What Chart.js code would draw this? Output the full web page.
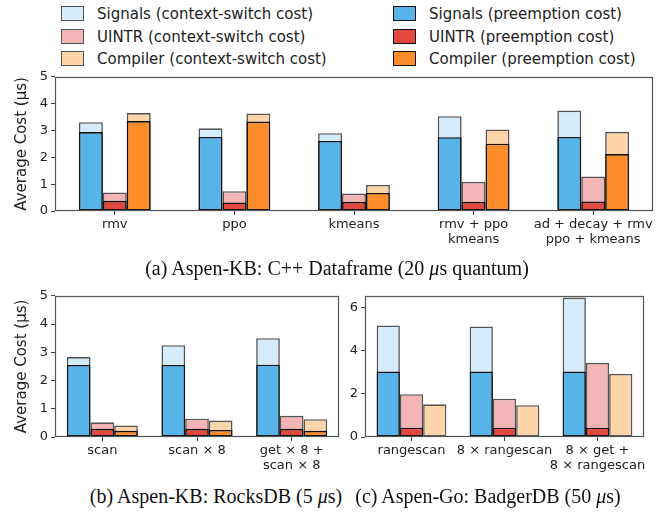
<!DOCTYPE html>
<html>
<head>
<meta charset="utf-8">
<script src="https://cdn.jsdelivr.net/npm/chart.js@4.4.0/dist/chart.umd.min.js"></script>
<style>
  body { margin: 0; background: #fff; width: 664px; height: 514px; position: relative; overflow: hidden; font-family: "DejaVu Sans"; }
  canvas { position: absolute; }
  .cap { position: absolute; font-family: "Liberation Serif"; font-size: 20px; color: #111; white-space: nowrap; transform: translateX(-50%); line-height: 22px; }
  .item { position: absolute; font-size: 15px; color: #222; white-space: nowrap; line-height: 18px; }
  .sw { display: inline-block; width: 23px; height: 15px; border: 1.5px solid #222; box-sizing: border-box; vertical-align: -2px; margin-right: 13px; }
</style>
</head>
<body>
<div id="legend"></div>
<canvas id="chartA" width="664" height="192" style="left:0;top:66px"></canvas>
<div class="cap" style="left:337px;top:257px">(a) Aspen-KB: C++ Dataframe (20 <i>μ</i>s quantum)</div>
<canvas id="chartB" width="342" height="195" style="left:0;top:285px"></canvas>
<canvas id="chartC" width="324" height="195" style="left:340px;top:285px"></canvas>
<div class="cap" style="left:216px;top:485px">(b) Aspen-KB: RocksDB (5 <i>μ</i>s)</div>
<div class="cap" style="left:488px;top:485px">(c) Aspen-Go: BadgerDB (50 <i>μ</i>s)</div>
<script>
// legend / series names
const seriesNames = ['Signals', 'UINTR', 'Compiler'];
const preColors = ['#56b4e9', '#e2483d', '#fd8c2b'];
const csColors = ['#d4ecfb', '#f4b5b7', '#fed5a9'];

// (a) C++ Dataframe
const labelsA = ['rmv', 'ppo', 'kmeans', ['rmv + ppo', 'kmeans'], ['ad + decay + rmv', 'ppo + kmeans']];
const sigCsA = [3.31, 3.08, 2.90, 3.53, 3.74];
const sigPreA = [2.94, 2.76, 2.61, 2.75, 2.76];
const uintrCsA = [0.69, 0.74, 0.65, 1.08, 1.29];
const uintrPreA = [0.38, 0.32, 0.34, 0.34, 0.35];
const compCsA = [3.65, 3.63, 0.97, 3.04, 2.95];
const compPreA = [3.35, 3.33, 0.67, 2.51, 2.12];

// (b) RocksDB
const labelsB = ['scan', 'scan × 8', ['get × 8 +', 'scan × 8']];
const sigCsB = [2.83, 3.25, 3.50];
const sigPreB = [2.55, 2.55, 2.56];
const uintrCsB = [0.52, 0.65, 0.75];
const uintrPreB = [0.29, 0.29, 0.29];
const compCsB = [0.41, 0.58, 0.63];
const compPreB = [0.22, 0.25, 0.22];

// (c) BadgerDB
const labelsC = ['rangescan', '8 × rangescan', ['8 × get +', '8 × rangescan']];
const sigCsC = [5.16, 5.11, 6.45];
const sigPreC = [3.03, 3.03, 3.03];
const uintrCsC = [1.98, 1.77, 3.43];
const uintrPreC = [0.43, 0.43, 0.43];
const compCsC = [1.51, 1.47, 2.92];
const compPreC = [null, null, null];

// legend, two columns like matplotlib ncol=2
const legend = document.getElementById('legend');
seriesNames.forEach((n, i) => {
  [[csColors[i], '#555', n + ' (context-switch cost)', 61],
   [preColors[i], '#111', n + ' (preemption cost)', 393]].forEach(([bg, bd, txt, x]) => {
    const d = document.createElement('div');
    d.className = 'item';
    d.style.left = x + 'px';
    d.style.top = (5 + i * 22.5) + 'px';
    d.innerHTML = '<span class="sw" style="background:' + bg + ';border-color:' + bd + '"></span>' + txt;
    legend.appendChild(d);
  });
});

const frame = {
  id: 'frame',
  afterDraw(c) {
    const a = c.chartArea, ctx = c.ctx;
    ctx.save();
    ctx.strokeStyle = '#555';
    ctx.lineWidth = 1.2;
    ctx.strokeRect(Math.round(a.left) + 0.5, Math.round(a.top) + 0.5, Math.round(a.right - a.left) - 1, Math.round(a.bottom - a.top) - 1);
    ctx.restore();
  }
};

function makeChart(id, labels, pre, cs, o) {
  const ds = [];
  const stacks = ['s', 'u', 'c'];
  pre.forEach((d, i) => ds.push({ label: seriesNames[i] + ' (preemption cost)', data: d, stack: stacks[i], order: 0,
    backgroundColor: preColors[i], borderColor: '#111', borderWidth: 1.6, borderSkipped: false }));
  cs.forEach((d, i) => ds.push({ label: seriesNames[i] + ' (context-switch cost)', data: d, stack: stacks[i], order: 1,
    backgroundColor: csColors[i], borderColor: '#555', borderWidth: 1.6, borderSkipped: false }));
  return new Chart(document.getElementById(id), {
    type: 'bar',
    data: { labels: labels, datasets: ds },
    plugins: [frame],
    options: {
      responsive: false,
      animation: false,
      events: [],
      categoryPercentage: o.catPct,
      barPercentage: 1,
      layout: { padding: { left: 0, top: o.padTop, right: o.padRight, bottom: 0 } },
      plugins: { legend: { display: false }, tooltip: { enabled: false } },
      scales: {
        x: {
          stacked: true,
          offset: true,
          grid: { display: true, drawOnChartArea: false, offset: false, tickLength: 4, color: '#444' },
          border: { display: false },
          ticks: { color: '#222', padding: 2, maxRotation: 0, autoSkip: false, font: { family: 'DejaVu Sans', size: 13, lineHeight: 1.15 } },
          afterFit(s) { s.height = o.xHeight; }
        },
        y: {
          stacked: false,
          min: 0,
          max: o.yMax,
          grid: { display: true, drawOnChartArea: false, tickLength: 4, color: '#444' },
          border: { display: false },
          ticks: { stepSize: o.step, includeBounds: false, color: '#222', padding: 3, font: { family: 'DejaVu Sans', size: 13 } },
          title: { display: !!o.title, text: o.title, color: '#222', font: { family: 'DejaVu Sans', size: 15 }, padding: { top: 13, bottom: 0 } },
          afterFit(s) { s.width = o.yWidth; }
        }
      }
    }
  });
}

makeChart('chartA', labelsA, [sigPreA, uintrPreA, compPreA], [sigCsA, uintrCsA, compCsA],
  { catPct: 0.6, padTop: 9, padRight: 11, xHeight: 47, yMax: 5, step: 1, yWidth: 55, title: 'Average Cost (μs)' });
makeChart('chartB', labelsB, [sigPreB, uintrPreB, compPreB], [sigCsB, uintrCsB, compCsB],
  { catPct: 0.75, padTop: 10, padRight: 3, xHeight: 43, yMax: 5, step: 1, yWidth: 55, title: 'Average Cost (μs)' });
makeChart('chartC', labelsC, [sigPreC, uintrPreC, compPreC], [sigCsC, uintrCsC, compCsC],
  { catPct: 0.75, padTop: 10, padRight: 20, xHeight: 43, yMax: 6.53, step: 2, yWidth: 25, title: '' });
</script>
</body>
</html>
